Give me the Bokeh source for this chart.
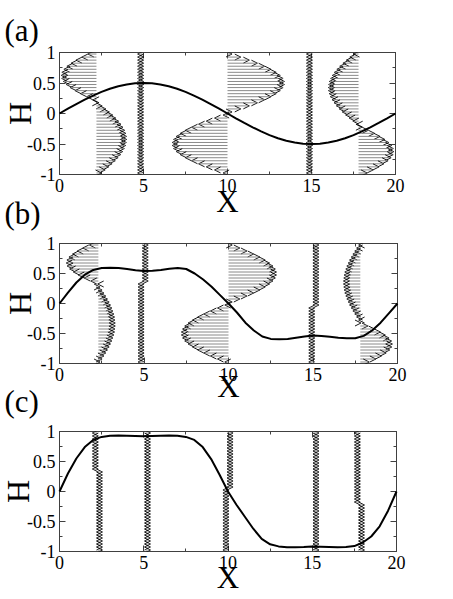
import math
from bokeh.plotting import figure
from bokeh.models import (Arrow, OpenHead, ColumnDataSource, Range1d, FixedTicker,
                          LinearAxis, Title)
from bokeh.layouts import column
from bokeh.embed import file_html
from bokeh.resources import INLINE

FONT = "Liberation Serif"
FRAME = "#404040"

# ---------------- data ----------------
curve_x = [0, 0.5, 1, 1.5, 2, 2.5, 3, 3.5, 4, 4.5, 5, 5.5, 6, 6.5, 7, 7.5, 8, 8.5, 9, 9.5,
           10, 10.5, 11, 11.5, 12, 12.5, 13, 13.5, 14, 14.5, 15, 15.5, 16, 16.5, 17, 17.5,
           18, 18.5, 19, 19.5, 20]
h_a = [0, 0.078, 0.155, 0.227, 0.294, 0.354, 0.405, 0.446, 0.476, 0.494, 0.5, 0.494, 0.476,
       0.446, 0.405, 0.354, 0.294, 0.227, 0.155, 0.078, 0, -0.078, -0.155, -0.227, -0.294,
       -0.354, -0.405, -0.446, -0.476, -0.494, -0.5, -0.494, -0.476, -0.446, -0.405, -0.354,
       -0.294, -0.227, -0.155, -0.078, 0]
h_b = [0, 0.18, 0.35, 0.48, 0.56, 0.59, 0.595, 0.59, 0.575, 0.555, 0.54, 0.545, 0.56, 0.58,
       0.59, 0.575, 0.50, 0.40, 0.28, 0.14, 0, -0.15, -0.32, -0.45, -0.55, -0.59, -0.595,
       -0.59, -0.57, -0.55, -0.535, -0.54, -0.555, -0.57, -0.58, -0.58, -0.54, -0.45, -0.32,
       -0.16, 0]
h_c = [0, 0.30, 0.55, 0.74, 0.86, 0.91, 0.93, 0.935, 0.93, 0.925, 0.92, 0.925, 0.93, 0.935,
       0.93, 0.91, 0.86, 0.74, 0.54, 0.28, 0, -0.22, -0.42, -0.62, -0.79, -0.88, -0.915,
       -0.93, -0.93, -0.925, -0.915, -0.92, -0.925, -0.93, -0.925, -0.91, -0.85, -0.75,
       -0.58, -0.32, 0]

# heights of the velocity arrows (top to bottom)
arrow_y = [0.975, 0.925, 0.875, 0.825, 0.775, 0.725, 0.675, 0.625, 0.575, 0.525,
           0.475, 0.425, 0.375, 0.325, 0.275, 0.225, 0.175, 0.125, 0.075, 0.025,
           -0.025, -0.075, -0.125, -0.175, -0.225, -0.275, -0.325, -0.375, -0.425, -0.475,
           -0.525, -0.575, -0.625, -0.675, -0.725, -0.775, -0.825, -0.875, -0.925, -0.975]

# panel (a) stations: base x and horizontal velocity at each arrow_y
a_base = [2.2, 4.95, 10.0, 15.0, 17.8]
a_u1 = [-0.51, -0.87, -1.22, -1.51, -1.76, -1.94, -2.06, -2.10, -2.07, -1.97, -1.80, -1.57,
        -1.28, -0.95, -0.58, -0.20, 0.11, 0.34, 0.56, 0.77, 0.97, 1.15, 1.32, 1.46, 1.58,
        1.68, 1.75, 1.79, 1.80, 1.78, 1.74, 1.66, 1.56, 1.44, 1.29, 1.12, 0.93, 0.73, 0.52, 0.30]
a_u2 = [-0.3, -0.3, -0.3, -0.3, -0.3, -0.3, -0.3, -0.3, -0.3, -0.3, -0.3, -0.3, -0.3, -0.3,
        -0.3, -0.3, -0.3, -0.3, -0.3, -0.3, -0.3, -0.3, -0.3, -0.3, -0.3, -0.3, -0.3, -0.3,
        -0.3, -0.3, -0.3, -0.3, -0.3, -0.3, -0.3, -0.3, -0.3, -0.3, -0.3, -0.3]
a_u3 = [0.27, 0.79, 1.30, 1.78, 2.21, 2.59, 2.90, 3.14, 3.31, 3.39, 3.39, 3.31, 3.14, 2.90,
        2.59, 2.21, 1.78, 1.30, 0.79, 0.27, -0.26, -0.77, -1.26, -1.72, -2.14, -2.51, -2.81,
        -3.05, -3.21, -3.29, -3.29, -3.21, -3.05, -2.81, -2.51, -2.14, -1.72, -1.26, -0.77, -0.26]
a_u4 = [-0.3, -0.3, -0.3, -0.3, -0.3, -0.3, -0.3, -0.3, -0.3, -0.3, -0.3, -0.3, -0.3, -0.3,
        -0.3, -0.3, -0.3, -0.3, -0.3, -0.3, -0.3, -0.3, -0.3, -0.3, -0.3, -0.3, -0.3, -0.3,
        -0.3, -0.3, -0.3, -0.3, -0.3, -0.3, -0.3, -0.3, -0.3, -0.3, -0.3, -0.3]
a_u5 = [-0.30, -0.52, -0.73, -0.93, -1.12, -1.29, -1.44, -1.56, -1.66, -1.74, -1.78, -1.80,
        -1.79, -1.75, -1.68, -1.58, -1.46, -1.32, -1.15, -0.97, -0.77, -0.56, -0.34, -0.11,
        0.20, 0.58, 0.95, 1.28, 1.57, 1.80, 1.97, 2.07, 2.10, 2.06, 1.94, 1.76, 1.51, 1.22,
        0.87, 0.51]

# panel (b)
b_base = [2.3, 4.95, 10.0, 15.05, 17.8]
b_u1 = [-0.53, -0.92, -1.25, -1.53, -1.74, -1.86, -1.90, -1.85, -1.70, -1.48, -1.19, -0.84,
        -0.45, -0.04, 0.10, 0.22, 0.33, 0.44, 0.54, 0.64, 0.72, 0.80, 0.86, 0.92, 0.96, 0.98,
        1.00, 1.00, 0.98, 0.96, 0.92, 0.86, 0.80, 0.72, 0.64, 0.54, 0.44, 0.33, 0.22, 0.10]
b_u2 = [0.3, 0.3, 0.3, 0.3, 0.3, 0.3, 0.3, 0.3, 0.3, 0.3, 0.3, 0.3, 0.3, -0.3,
        -0.3, -0.3, -0.3, -0.3, -0.3, -0.3, -0.3, -0.3, -0.3, -0.3, -0.3, -0.3, -0.3, -0.3,
        -0.3, -0.3, -0.3, -0.3, -0.3, -0.3, -0.3, -0.3, -0.3, -0.3, -0.3, -0.3]
b_u3 = [0.22, 0.67, 1.09, 1.49, 1.85, 2.17, 2.43, 2.63, 2.77, 2.84, 2.84, 2.77, 2.63, 2.43,
        2.17, 1.85, 1.49, 1.09, 0.67, 0.22, -0.22, -0.65, -1.07, -1.46, -1.82, -2.13, -2.39,
        -2.59, -2.72, -2.79, -2.79, -2.72, -2.59, -2.39, -2.13, -1.82, -1.46, -1.07, -0.65, -0.22]
b_u4 = [0.3, 0.3, 0.3, 0.3, 0.3, 0.3, 0.3, 0.3, 0.3, 0.3, 0.3, 0.3, 0.3, 0.3,
        0.3, 0.3, 0.3, 0.3, 0.3, 0.3, 0.3, -0.3, -0.3, -0.3, -0.3, -0.3, -0.3, -0.3,
        -0.3, -0.3, -0.3, -0.3, -0.3, -0.3, -0.3, -0.3, -0.3, -0.3, -0.3, -0.3]
b_u5 = [-0.10, -0.22, -0.33, -0.44, -0.54, -0.64, -0.72, -0.80, -0.86, -0.92, -0.96, -0.98,
        -1.00, -1.00, -0.98, -0.96, -0.92, -0.86, -0.80, -0.72, -0.64, -0.54, -0.44, -0.33,
        -0.22, -0.10, 0.04, 0.45, 0.84, 1.19, 1.48, 1.70, 1.85, 1.90, 1.86, 1.74, 1.53, 1.25,
        0.92, 0.53]

# panel (c)
c_base = [2.25, 5.1, 10.0, 15.1, 17.8]
c_u1 = [-0.3, -0.3, -0.3, -0.3, -0.3, -0.3, -0.3, -0.3, -0.3, -0.3, -0.3, -0.3, -0.3, 0.3,
        0.3, 0.3, 0.3, 0.3, 0.3, 0.3, 0.3, 0.3, 0.3, 0.3, 0.3, 0.3, 0.3, 0.3,
        0.3, 0.3, 0.3, 0.3, 0.3, 0.3, 0.3, 0.3, 0.3, 0.3, 0.3, 0.3]
c_u2 = [0.3, 0.3, 0.3, 0.3, 0.3, 0.3, 0.3, 0.3, 0.3, 0.3, 0.3, 0.3, 0.3, 0.3,
        0.3, 0.3, 0.3, 0.3, 0.3, 0.3, 0.3, 0.3, 0.3, 0.3, 0.3, 0.3, 0.3, 0.3,
        0.3, 0.3, 0.3, 0.3, 0.3, 0.3, 0.3, 0.3, 0.3, 0.3, 0.3, 0.3]
c_u3 = [0.3, 0.3, 0.3, 0.3, 0.3, 0.3, 0.3, 0.3, 0.3, 0.3, 0.3, 0.3, 0.3, 0.3,
        0.3, 0.3, 0.3, 0.3, 0.3, -0.3, -0.3, -0.3, -0.3, -0.3, -0.3, -0.3, -0.3, -0.3,
        -0.3, -0.3, -0.3, -0.3, -0.3, -0.3, -0.3, -0.3, -0.3, -0.3, -0.3, -0.3]
c_u4 = [0.3, 0.3, 0.3, 0.3, 0.3, 0.3, 0.3, 0.3, 0.3, 0.3, 0.3, 0.3, 0.3, 0.3,
        0.3, 0.3, 0.3, 0.3, 0.3, 0.3, 0.3, 0.3, 0.3, 0.3, 0.3, 0.3, 0.3, 0.3,
        0.3, 0.3, 0.3, 0.3, 0.3, 0.3, 0.3, 0.3, 0.3, 0.3, 0.3, 0.3]
c_u5 = [-0.3, -0.3, -0.3, -0.3, -0.3, -0.3, -0.3, -0.3, -0.3, -0.3, -0.3, -0.3, -0.3, -0.3,
        -0.3, -0.3, -0.3, -0.3, -0.3, -0.3, -0.3, -0.3, -0.3, -0.3, 0.3, 0.3, 0.3, 0.3,
        0.3, 0.3, 0.3, 0.3, 0.3, 0.3, 0.3, 0.3, 0.3, 0.3, 0.3, 0.3]

x_ticks = [0, 5, 10, 15, 20]
x_minor = [2.5, 7.5, 12.5, 17.5]
x_tick_labels = ["0", "5", "10", "15", "20"]
y_ticks = [-1, -0.5, 0, 0.5, 1]
y_minor = [-0.75, -0.25, 0.25, 0.75]
y_tick_labels = ["-1", "-0.5", "0", "0.5", "1"]


def add_title(p, side, text, size, align, valign, standoff, offset=0):
    t = Title(text=text, align=align, vertical_align=valign, standoff=standoff,
              offset=offset, text_font=FONT, text_font_size=f"{size}px",
              text_font_style="normal", text_color="black")
    p.add_layout(t, side)


def make_panel(h, bases, profiles, left, top, fw, fh, right, bottom):
    p = figure(frame_width=fw, frame_height=fh,
               x_range=Range1d(0, 20), y_range=Range1d(-1, 1),
               output_backend="svg", toolbar_location=None,
               min_border_left=left, min_border_top=top,
               min_border_right=right, min_border_bottom=bottom)
    p.grid.visible = False
    p.outline_line_color = FRAME
    p.outline_line_width = 1
    p.background_fill_color = "white"
    p.border_fill_color = "white"

    p.xaxis.ticker = FixedTicker(ticks=x_ticks, minor_ticks=x_minor)
    p.yaxis.ticker = FixedTicker(ticks=y_ticks, minor_ticks=y_minor)
    p.xaxis.major_label_overrides = dict(zip(x_ticks, x_tick_labels))
    p.yaxis.major_label_overrides = dict(zip(y_ticks, y_tick_labels))
    for ax in (p.xaxis[0], p.yaxis[0]):
        ax.axis_line_color = FRAME
        ax.major_tick_line_color = FRAME
        ax.minor_tick_line_color = FRAME
        ax.major_tick_in = 6
        ax.major_tick_out = 0
        ax.minor_tick_in = 3
        ax.minor_tick_out = 0
        ax.major_label_text_font = FONT
        ax.major_label_text_font_size = "18px"
        ax.major_label_text_color = "black"
        ax.major_label_standoff = 4

    for side, tk in (("above", (x_ticks, x_minor)), ("right", (y_ticks, y_minor))):
        ax = LinearAxis(ticker=FixedTicker(ticks=tk[0], minor_ticks=tk[1]),
                        axis_line_color=FRAME, major_tick_line_color=FRAME,
                        minor_tick_line_color=FRAME, major_tick_in=6, major_tick_out=0,
                        minor_tick_in=3, minor_tick_out=0, major_label_standoff=0,
                        major_label_text_font_size="0px", major_label_text_color=None)
        p.add_layout(ax, side)

    x0, x1, yy = [], [], []
    for b, prof in zip(bases, profiles):
        for y, u in zip(arrow_y, prof):
            x0.append(b)
            x1.append(b + u)
            yy.append(y)
    src = ColumnDataSource(dict(x0=x0, x1=x1, y=yy))
    p.add_layout(Arrow(end=OpenHead(size=6, line_color="black", line_width=0.9),
                       x_start="x0", y_start="y", x_end="x1", y_end="y", source=src,
                       line_color="#8a8a8a", line_width=1))

    p.line(curve_x, h, line_color="black", line_width=2, level="overlay")
    return p


pa = make_panel(h_a, a_base, [a_u1, a_u2, a_u3, a_u4, a_u5], 55, 52, 336, 122, 29, 58)
pb = make_panel(h_b, b_base, [b_u1, b_u2, b_u3, b_u4, b_u5], 55, 11, 338, 120, 27, 57)
pc = make_panel(h_c, c_base, [c_u1, c_u2, c_u3, c_u4, c_u5], 59, 11, 337, 120, 24, 46)

# panel tags and axis names live in the side panels so they are not clipped
add_title(pa, "above", "(a)", 31, "left", "top", 6, -55)
add_title(pa, "left", "H", 32, "center", "top", -31)
add_title(pa, "below", "X", 31, "center", "top", -21)
add_title(pa, "below", "(b)", 31, "left", "top", -30, -55)

add_title(pb, "left", "H", 32, "center", "top", -31)
add_title(pb, "below", "X", 31, "center", "top", -29)
add_title(pb, "below", "(c)", 31, "left", "top", -16, -55)

add_title(pc, "left", "H", 32, "center", "top", -26)
add_title(pc, "below", "X", 31, "center", "top", -23)

layout = column(pa, pb, pc, spacing=0)
open("out.html", "w").write(file_html(layout, INLINE))
